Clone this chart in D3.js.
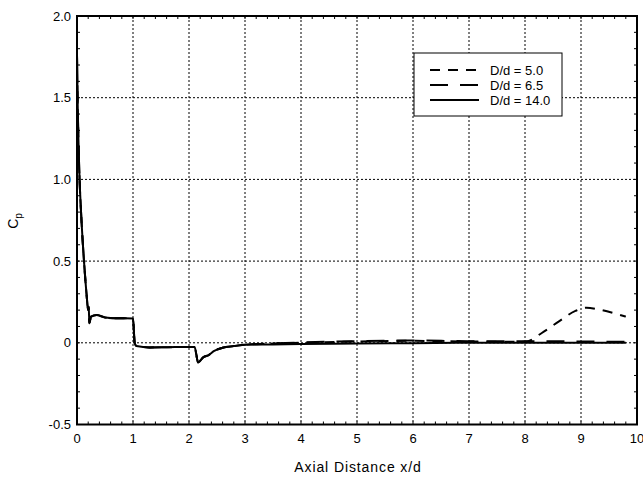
<!DOCTYPE html>
<html>
<head>
<meta charset="utf-8">
<script src="https://cdn.jsdelivr.net/npm/d3@7"></script>
<style>
  html, body { margin: 0; padding: 0; background: #fff; }
  svg { display: block; font-family: "Liberation Sans", Arial, sans-serif; }
</style>
</head>
<body>
<svg id="chart" width="643" height="477"></svg>
<script>
// Pressure coefficient along the axis for three diameter ratios
const seriesNames = ["D/d = 5.0", "D/d = 6.5", "D/d = 14.0"];

// Shared upstream portion (x/d from 0 to 3)
const commonX = [0, 0.01, 0.025, 0.04, 0.08, 0.125, 0.17, 0.2, 0.21, 0.22, 0.25, 0.35, 0.5, 0.7, 0.85, 1.0, 1.03, 1.06, 1.3, 1.6, 2.0, 2.1, 2.13, 2.16, 2.2, 2.25, 2.35, 2.45, 2.6, 2.8, 3.0];
const commonY = [1.76, 1.5, 1.25, 1.06, 0.75, 0.5, 0.3, 0.2, 0.22, 0.12, 0.16, 0.17, 0.155, 0.15, 0.15, 0.148, 0.0, -0.02, -0.028, -0.027, -0.025, -0.025, -0.07, -0.12, -0.11, -0.09, -0.075, -0.05, -0.03, -0.02, -0.012];

// Downstream portions
const x50 = [3.5, 4, 5, 6, 7, 7.5, 8.0, 8.3, 8.6, 8.9, 9.1, 9.3, 9.6, 9.8];
const y50 = [-0.005, 0.0, 0.008, 0.012, 0.008, 0.006, 0.006, 0.06, 0.13, 0.195, 0.215, 0.205, 0.18, 0.16];
const x65 = [3.5, 4, 5, 6, 7, 8, 9, 9.8];
const y65 = [-0.004, 0.002, 0.01, 0.014, 0.01, 0.01, 0.008, 0.006];
const x140 = [3.5, 4, 5, 6, 7, 8, 9, 9.8];
const y140 = [-0.01, -0.008, -0.005, -0.002, 0.0, 0.0, 0.0, 0.0];

const xTicks = [0, 1, 2, 3, 4, 5, 6, 7, 8, 9, 10];
const yTicks = [-0.5, 0, 0.5, 1.0, 1.5, 2.0];
const yTickLabels = ["-0.5", "0", "0.5", "1.0", "1.5", "2.0"];

const zip = (xs, ys) => xs.map((x, i) => [x, ys[i]]);
const common = zip(commonX, commonY);
const series = [
  { name: seriesNames[0], pts: common.concat(zip(x50, y50)), dash: "10,8" },
  { name: seriesNames[1], pts: common.concat(zip(x65, y65)), dash: "18,12" },
  { name: seriesNames[2], pts: common.concat(zip(x140, y140)), dash: null }
];

const svg = d3.select("#chart");
const L = 77, R = 637, T = 16, B = 424.5;
const x = d3.scaleLinear().domain([0, 10]).range([L, R]);
const y = d3.scaleLinear().domain([-0.5, 2.0]).range([B, T]);

// dotted grid
const g = svg.append("g");
g.selectAll("line.gx").data(xTicks.slice(1, -1)).join("line")
  .attr("x1", d => x(d)).attr("x2", d => x(d)).attr("y1", T).attr("y2", B)
  .attr("stroke", "#000").attr("stroke-width", 1).attr("stroke-dasharray", "2,2");
g.selectAll("line.gy").data(yTicks.slice(1, -1)).join("line")
  .attr("y1", d => y(d)).attr("y2", d => y(d)).attr("x1", L).attr("x2", R)
  .attr("stroke", "#000").attr("stroke-width", 1).attr("stroke-dasharray", "2,2");

// inward minor ticks on all four sides
const xMinor = d3.range(0, 10.001, 0.2);
const yMinor = d3.range(-0.5, 2.001, 0.1);
const tk = svg.append("g").attr("stroke", "#000").attr("stroke-width", 1);
xMinor.forEach(v => {
  tk.append("line").attr("x1", x(v)).attr("x2", x(v)).attr("y1", B).attr("y2", B - 3);
  tk.append("line").attr("x1", x(v)).attr("x2", x(v)).attr("y1", T).attr("y2", T + 3);
});
yMinor.forEach(v => {
  tk.append("line").attr("y1", y(v)).attr("y2", y(v)).attr("x1", L).attr("x2", L + 3);
  tk.append("line").attr("y1", y(v)).attr("y2", y(v)).attr("x1", R).attr("x2", R - 3);
});

// series lines
const line = d3.line().x(d => x(d[0])).y(d => y(d[1])).curve(d3.curveMonotoneX);
svg.append("g").selectAll("path").data(series).join("path")
  .attr("d", d => line(d.pts))
  .attr("fill", "none").attr("stroke", "#000").attr("stroke-width", 2)
  .attr("stroke-linejoin", "round")
  .attr("stroke-dasharray", d => d.dash);

// frame
svg.append("rect").attr("x", L).attr("y", T).attr("width", R - L).attr("height", B - T)
  .attr("fill", "none").attr("stroke", "#000").attr("stroke-width", 2);

// tick labels
svg.append("g").selectAll("text").data(xTicks).join("text")
  .attr("x", d => x(d)).attr("y", B + 18).attr("text-anchor", "middle")
  .attr("font-size", 13).text(d => d);
svg.append("g").selectAll("text").data(yTicks).join("text")
  .attr("x", L - 6).attr("y", d => y(d) + 4.5).attr("text-anchor", "end")
  .attr("font-size", 13).text((d, i) => yTickLabels[i]);

// axis titles
svg.append("text").attr("x", (L + R) / 2 + 1).attr("y", 472).attr("text-anchor", "middle")
  .attr("font-size", 14).attr("letter-spacing", 0.9).text("Axial Distance x/d");
const yt = svg.append("text").attr("transform", "translate(18,221) rotate(-90)")
  .attr("text-anchor", "middle").attr("font-size", 14);
yt.append("tspan").text("C");
yt.append("tspan").attr("font-size", 10).attr("dy", 4).text("p");

// legend
const lg = svg.append("g");
lg.append("rect").attr("x", 414).attr("y", 53).attr("width", 148).attr("height", 63)
  .attr("fill", "#fff").attr("stroke", "#000").attr("stroke-width", 1);
series.forEach((s, i) => {
  const yy = 70 + i * 15;
  lg.append("line").attr("x1", 430).attr("x2", 479).attr("y1", yy).attr("y2", yy)
    .attr("stroke", "#000").attr("stroke-width", 2).attr("stroke-dasharray", s.dash);
  lg.append("text").attr("x", 490).attr("y", yy + 4.5).attr("font-size", 13).text(s.name);
});
</script>
</body>
</html>
